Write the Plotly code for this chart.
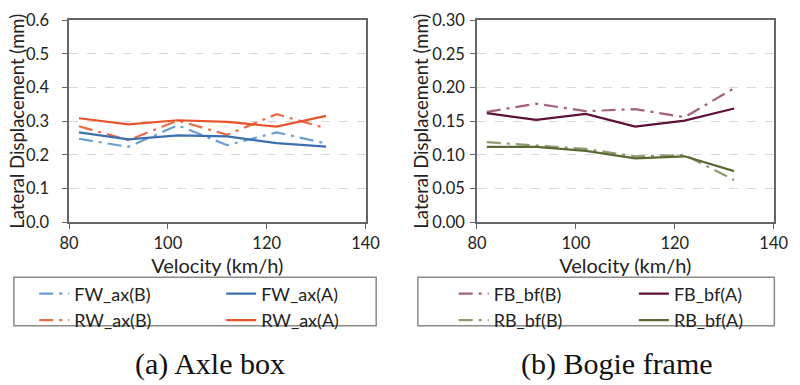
import plotly.graph_objects as go

# ---------------- data ----------------
velocity = [82, 92, 102, 112, 122, 132]

fw_ax_b = [0.248, 0.224, 0.288, 0.229, 0.267, 0.234]
fw_ax_a = [0.267, 0.246, 0.258, 0.255, 0.235, 0.225]
rw_ax_b = [0.285, 0.244, 0.302, 0.260, 0.321, 0.279]
rw_ax_a = [0.309, 0.291, 0.303, 0.298, 0.284, 0.316]

fb_bf_b = [0.164, 0.176, 0.165, 0.168, 0.156, 0.199]
fb_bf_a = [0.162, 0.152, 0.161, 0.142, 0.151, 0.169]
rb_bf_b = [0.119, 0.114, 0.109, 0.098, 0.100, 0.063]
rb_bf_a = [0.112, 0.112, 0.106, 0.095, 0.098, 0.076]

x_ticks = [80, 100, 120, 140]
left_y_ticks = [0.0, 0.1, 0.2, 0.3, 0.4, 0.5, 0.6]
right_y_ticks = [0.00, 0.05, 0.10, 0.15, 0.20, 0.25, 0.30]

# ---------------- styling ----------------
W, H = 800, 385
SANS = "Lato, 'Open Sans', sans-serif"
SERIF = "'Liberation Serif', 'Times New Roman', serif"
DASHDOT = "14px,6px,3px,6px"
FRAME = "#666666"
TXT = "#222222"

def px_x(p):
    return p / W

def px_y(p):
    return 1 - p / H

fig = go.Figure()

series = [
    # name, y, color, dash, xaxis, yaxis, legend
    ("FW_ax(B)", fw_ax_b, "#6a9fd4", DASHDOT, "x", "y", "legend"),
    ("RW_ax(B)", rw_ax_b, "#ee6a43", DASHDOT, "x", "y", "legend"),
    ("FW_ax(A)", fw_ax_a, "#3b6fae", "solid", "x", "y", "legend2"),
    ("RW_ax(A)", rw_ax_a, "#e8532c", "solid", "x", "y", "legend2"),
    ("FB_bf(B)", fb_bf_b, "#a4607f", DASHDOT, "x2", "y2", "legend3"),
    ("RB_bf(B)", rb_bf_b, "#8f9b70", DASHDOT, "x2", "y2", "legend3"),
    ("FB_bf(A)", fb_bf_a, "#5e1038", "solid", "x2", "y2", "legend4"),
    ("RB_bf(A)", rb_bf_a, "#5b6a34", "solid", "x2", "y2", "legend4"),
]

for name, ys, color, dash, xa, ya, lg in series:
    fig.add_trace(go.Scatter(
        x=velocity, y=ys, mode="lines", name=name,
        line=dict(color=color, width=2.2, dash=dash),
        xaxis=xa, yaxis=ya, legend=lg, showlegend=True,
    ))

axis_common = dict(
    showline=True, linecolor=FRAME, linewidth=1.5, mirror=True,
    ticks="outside", ticklen=5, tickcolor=FRAME, tickwidth=1.2,
    tickfont=dict(family=SANS, size=16.5, color=TXT),
    ticklabeloverflow="allow",
    zeroline=False,
)

xaxis_common = dict(axis_common, range=[80, 140], tickvals=x_ticks,
                    showgrid=False,
                    title=dict(text="Velocity (km/h)", standoff=3,
                               font=dict(family=SANS, size=20, color=TXT)))

yaxis_common = dict(axis_common, showgrid=True, gridcolor="#d9d9d9",
                    griddash="dash", gridwidth=1)

y_dom = [px_y(224), px_y(10.7)]

fig.update_layout(
    width=W, height=H,
    margin=dict(l=0, r=0, t=0, b=0),
    paper_bgcolor="white", plot_bgcolor="white",
    showlegend=True,
    xaxis=dict(xaxis_common, domain=[px_x(61), px_x(367)], anchor="y"),
    yaxis=dict(yaxis_common, domain=y_dom, anchor="x", range=[0, 0.6],
               tickvals=left_y_ticks, tickformat=".1f", ticklabelstandoff=10),
    xaxis2=dict(xaxis_common, domain=[px_x(482), px_x(788.3)], anchor="y2"),
    yaxis2=dict(yaxis_common, domain=y_dom, anchor="x2", range=[0, 0.30],
                tickvals=right_y_ticks, tickformat=".2f", ticklabelstandoff=2),
)

# y-axis titles
for cx in [7, 424]:
    fig.add_annotation(text="Lateral Displacement (mm)", textangle=-90,
                       x=px_x(cx), y=px_y(117), xref="paper", yref="paper",
                       xanchor="center", yanchor="middle", showarrow=False,
                       font=dict(family=SANS, size=18.5, color=TXT))

legend_font = dict(family=SANS, size=18, color=TXT)
legend_y = px_y(280)
for key, xpx in [("legend", 25), ("legend2", 218), ("legend3", 458), ("legend4", 644)]:
    fig.update_layout({key: dict(
        x=px_x(xpx), y=legend_y, xanchor="left", yanchor="top",
        orientation="v", bgcolor="rgba(0,0,0,0)", borderwidth=0,
        font=legend_font, tracegroupgap=0, itemwidth=30,
    )})

# legend frames
for x0, x1 in [(4, 378), (421, 789)]:
    fig.add_shape(type="rect", xref="paper", yref="paper",
                  x0=px_x(x0), x1=px_x(x1), y0=px_y(333), y1=px_y(282),
                  line=dict(color="#8a8a8a", width=1.5), fillcolor="rgba(0,0,0,0)")

# captions
for text, cx in [("(a) Axle box", 206), ("(b) Bogie frame", 627)]:
    fig.add_annotation(text=text, x=px_x(cx), y=px_y(373), xref="paper", yref="paper",
                       xanchor="center", yanchor="middle", showarrow=False,
                       font=dict(family=SERIF, size=30, color="#111111"))

# remove the default page margin so the 800x385 figure fills the window exactly
fig.write_html("out.html", config={"displayModeBar": False},
               post_script="document.body.style.margin='0';")
